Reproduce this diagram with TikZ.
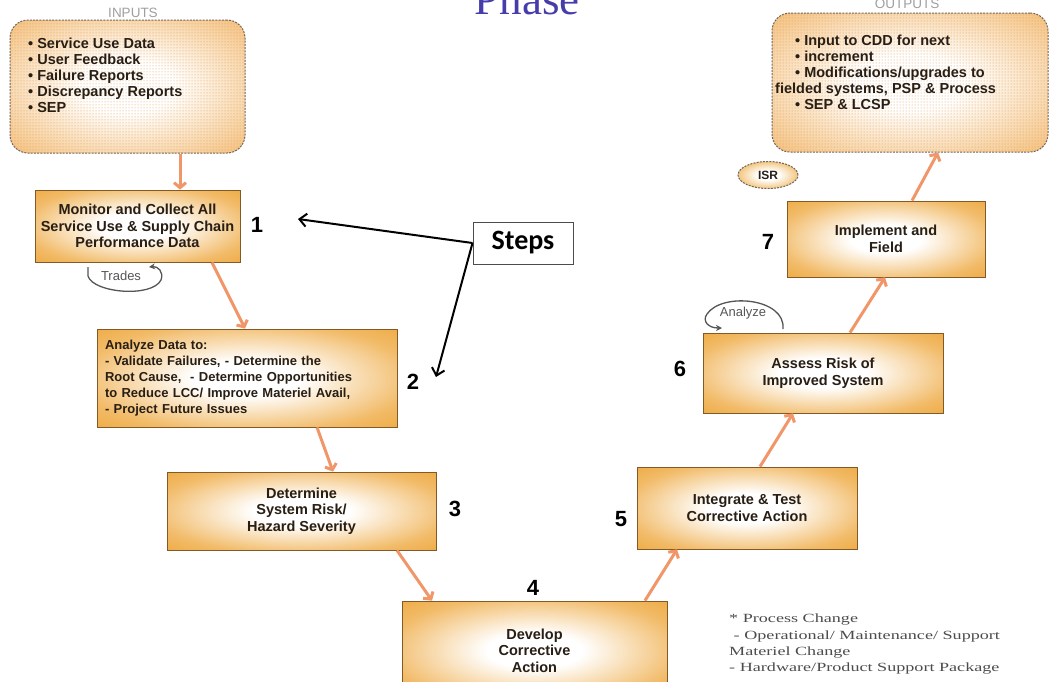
\documentclass[tikz,border=0pt]{standalone}
\usepackage{fontspec}
\setmainfont{Liberation Sans}
\newfontfamily\stepsfont{Carlito}
\newfontfamily\notefont{Liberation Serif}[FakeStretch=1.45]
\newfontfamily\titlefont{Liberation Serif}
\usetikzlibrary{arrows.meta,shapes.geometric,patterns}

\definecolor{boxor}{RGB}{236,158,40}
\definecolor{boxedge}{RGB}{130,90,40}
\definecolor{flowor}{RGB}{240,150,105}
\definecolor{iofill}{RGB}{243,185,110}
\definecolor{dotc}{RGB}{222,150,80}
\definecolor{iodash}{RGB}{110,100,90}
\definecolor{loopgray}{RGB}{85,85,85}
\definecolor{titleblue}{RGB}{70,60,170}
\definecolor{textdark}{RGB}{40,30,20}

% white-centred orange glow for the process boxes
\pgfdeclareradialshading{boxglow}{\pgfpointorigin}{%
  color(0bp)=(white); color(9bp)=(white);
  color(28bp)=(boxor!70!white); color(43bp)=(boxor); color(50bp)=(boxor)}
% softer glow for the input / output panels
\pgfdeclareradialshading{ioglow}{\pgfpointorigin}{%
  color(0bp)=(white); color(10bp)=(white);
  color(38bp)=(iofill); color(50bp)=(iofill)}

\newcommand{\listdot}{\textbullet\ }

\begin{document}
\begin{tikzpicture}[x=1pt,y=-1pt,
  stepbox/.style={draw=boxedge, line width=0.8pt, shade, shading=boxglow,
    inner sep=0pt, text=textdark, align=center,
    font=\bfseries\fontsize{14.5}{16.5}\selectfont},
  ioframe/.style={rounded corners=18pt, draw=iodash, line width=1pt,
    dash pattern=on 2pt off 1.2pt, shade, shading=ioglow,
    postaction={pattern=dots, pattern color=dotc}},
  iotext/.style={anchor=north west, inner sep=0pt, align=left, text=textdark,
    font=\bfseries\fontsize{14.5}{16}\selectfont},
  iolabel/.style={text=gray!75, font=\fontsize{13.5}{13.5}\selectfont, inner sep=0pt},
  numlabel/.style={font=\bfseries\fontsize{22}{22}\selectfont, inner sep=0pt},
  flow/.style={draw=flowor, line width=3pt,
    -{Straight Barb[length=5pt,width=12pt]}},
  pointer/.style={draw=black, line width=2pt,
    -{Straight Barb[length=7pt,width=13pt]}},
  loopline/.style={draw=loopgray, line width=1.3pt,
    -{Stealth[length=6pt,width=6pt]}},
  looptext/.style={text=loopgray, font=\fontsize{13}{13}\selectfont, inner sep=0pt},
  stepsbox/.style={draw=gray!60!black, line width=1pt, fill=white,
    minimum width=100pt, minimum height=42pt, inner sep=0pt,
    font=\stepsfont\bfseries\fontsize{28}{28}\selectfont}
]
\useasboundingbox (0,0) rectangle (1052,681);

% title, cut by the top edge
\node[anchor=base, text=titleblue, font=\titlefont\fontsize{45}{45}\selectfont,
  inner sep=0pt] (title) at (527,14) {Phase};

% input and output panels
\node[iolabel] (inlabel) at (133,13) {INPUTS};
\node[ioframe, minimum width=235pt, minimum height=133pt] (inp) at (127.5,86.5) {};
\node[iotext] (intext) at (28,38) {%
  \listdot Service Use Data\\
  \listdot User Feedback\\
  \listdot Failure Reports\\
  \listdot Discrepancy Reports\\
  \listdot SEP};

\node[iolabel] (outlabel) at (907,4) {OUTPUTS};
\node[ioframe, minimum width=276pt, minimum height=139pt] (out) at (910,82.5) {};
\node[iotext] (outtext) at (775,35) {%
  \hspace*{20pt}\listdot Input to CDD for next\\
  \hspace*{20pt}\listdot increment\\
  \hspace*{20pt}\listdot Modifications/upgrades to\\
  fielded systems, PSP \& Process\\
  \hspace*{20pt}\listdot SEP \& LCSP};

% process steps
\node[stepbox, minimum width=205pt, minimum height=72pt] (s1) at (137.5,226)
  {Monitor and Collect All\\Service Use \& Supply Chain\\Performance Data};
\node[stepbox, minimum width=300pt, minimum height=98pt, align=left,
  text width=284pt, font=\bfseries\fontsize{13}{16}\selectfont] (s2) at (247,378)
  {Analyze Data to:\\
   - Validate Failures, - Determine the\\
   Root Cause,\ \ - Determine Opportunities\\
   to Reduce LCC/ Improve Materiel Avail,\\
   - Project Future Issues};
\node[stepbox, minimum width=269pt, minimum height=78pt] (s3) at (301.5,511)
  {Determine\\System Risk/\\Hazard Severity};
\node[stepbox, minimum width=265pt, minimum height=99pt] (s4) at (534.5,650.5)
  {Develop\\Corrective\\Action};
\node[stepbox, minimum width=220pt, minimum height=82pt] (s5) at (747,508)
  {Integrate \& Test\\Corrective Action};
\node[stepbox, minimum width=240pt, minimum height=80pt] (s6) at (823,373)
  {Assess Risk of\\Improved System};
\node[stepbox, minimum width=198pt, minimum height=76pt] (s7) at (886,239)
  {Implement and\\Field};

% step numbers
\node[numlabel] (n1) at (257,225) {1};
\node[numlabel] (n2) at (413,382) {2};
\node[numlabel] (n3) at (455,509) {3};
\node[numlabel] (n4) at (533,588) {4};
\node[numlabel] (n5) at (621,519) {5};
\node[numlabel] (n6) at (680,369) {6};
\node[numlabel] (n7) at (768,242) {7};

% ISR badge
\node[ellipse, draw=iodash, line width=1pt, dash pattern=on 2pt off 1.2pt,
  shade, shading=boxglow, minimum width=60pt, minimum height=27pt, inner sep=0pt,
  text=textdark, font=\bfseries\fontsize{12}{12}\selectfont] (isr) at (768,175) {ISR};

% flow between the steps
\draw[flow] ([xshift=52.5pt]inp.south) -- ([xshift=42.5pt]s1.north);
\draw[flow] ([xshift=74.5pt]s1.south) -- ([xshift=-2pt]s2.north);
\draw[flow] ([xshift=70pt]s2.south) -- ([xshift=31.5pt]s3.north);
\draw[flow] ([xshift=95.5pt]s3.south) -- ([xshift=-102.5pt]s4.north);
\draw[flow] ([xshift=110.5pt]s4.north) -- ([xshift=-70pt]s5.south);
\draw[flow] ([xshift=13pt]s5.north) -- ([xshift=-30pt]s6.south);
\draw[flow] ([xshift=27pt]s6.north) -- ([xshift=-1pt]s7.south);
\draw[flow] ([xshift=26pt]s7.north) -- ([xshift=28pt]out.south);

% Steps callout
\node[stepsbox] (steps) at (523,243) {Steps};
\coordinate (t1) at (298,219);
\coordinate (t2) at (436,377);
\draw[pointer] (steps.west) -- (t1);
\draw[pointer] (steps.west) -- (t2);

% Trades loop under step 1
\node[looptext] (trades) at (121,276) {Trades};
\coordinate (tr-a) at (88,267);
\coordinate (tr-b) at (88,276);
\coordinate (tr-c) at (161,280);
\coordinate (tr-d) at (149,267);
\draw[loopline] (tr-a) -- (tr-b) .. controls (93,293) and (152,298) .. (tr-c)
  .. controls (164,272) and (158,266) .. (tr-d);

% Analyze loop over step 6
\node[looptext] (analyze) at (743,313) {Analyze};
\coordinate (an-a) at (783,329);
\coordinate (an-b) at (707,314);
\coordinate (an-c) at (722,328);
\draw[loopline] (an-a) .. controls (786,298) and (722,292) .. (an-b)
  .. controls (702,321) and (708,328) .. (an-c);

% change categories note
\node[anchor=north west, inner sep=0pt, align=left, text=black!70,
  font=\notefont\fontsize{12.5}{16.3}\selectfont] (note) at (729,614)
  {* Process Change\\
   \ - Operational/ Maintenance/ Support\\
   Materiel Change\\
   - Hardware/Product Support Package};
\end{tikzpicture}
\end{document}
